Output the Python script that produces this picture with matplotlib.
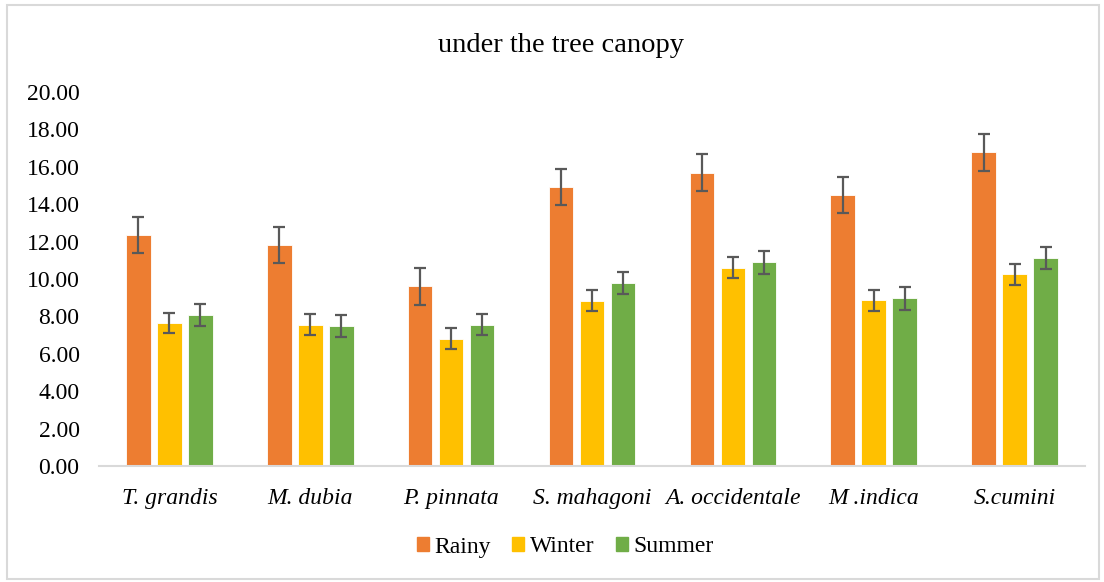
import matplotlib

matplotlib.use("Agg")
import matplotlib.pyplot as plt
import numpy as np
from matplotlib.patches import Rectangle

species = ["T. grandis", "M. dubia", "P. pinnata", "S. mahagoni",
           "A. occidentale", "M .indica", "S.cumini"]
seasons = ["Rainy", "Winter", "Summer"]
rainy = [12.35, 11.80, 9.60, 14.92, 15.69, 14.49, 16.78]
winter = [7.63, 7.56, 6.80, 8.84, 10.61, 8.86, 10.25]
summer = [8.08, 7.50, 7.56, 9.80, 10.89, 8.97, 11.12]
rainy_err = [0.96, 0.97, 0.98, 0.96, 0.98, 0.96, 0.98]
winter_err = [0.54, 0.55, 0.57, 0.57, 0.57, 0.55, 0.57]
summer_err = [0.60, 0.58, 0.57, 0.59, 0.60, 0.62, 0.61]
colors = ["#ED7D31", "#FFC000", "#70AD47"]

plt.rcParams["font.family"] = ["Liberation Serif", "DejaVu Serif"]

fig = plt.figure(figsize=(11.04, 5.82), dpi=100)
ax = fig.add_axes([99 / 1104, 116 / 582, 986 / 1104, 374 / 582])

x = np.arange(len(species))
width = 0.175
pitch = 0.22
for i, (vals, errs) in enumerate(zip([rainy, winter, summer],
                                     [rainy_err, winter_err, summer_err])):
    ax.bar(x + (i - 1) * pitch, vals, width, color=colors[i], label=seasons[i],
           edgecolor="white", linewidth=0.6, zorder=2)
    ax.errorbar(x + (i - 1) * pitch, vals, yerr=errs, fmt="none",
                ecolor="#595959", elinewidth=1.6, capsize=4.5, capthick=1.6,
                zorder=3)

ax.set_xlim(-0.5, len(species) - 0.5)
ax.set_ylim(0, 20)
ax.set_yticks(np.arange(0, 20.01, 2))
ax.set_yticklabels([f"{v:.2f}" for v in np.arange(0, 20.01, 2)], fontsize=17)
ax.set_xticks(x)
ax.set_xticklabels(species, fontsize=17, style="italic")
ax.tick_params(length=0)
ax.tick_params(axis="y", pad=14)
ax.tick_params(axis="x", pad=16)
for s in ["top", "right", "left"]:
    ax.spines[s].set_visible(False)
ax.spines["bottom"].set_color("#D9D9D9")
ax.spines["bottom"].set_linewidth(1.5)

fig.text(0.508, 1 - 46 / 582, "under the tree canopy", ha="center", va="center",
         fontsize=20.5)

handles = [Rectangle((0, 0), 1, 1, color=c) for c in colors]
fig.legend(handles, seasons, loc="center", bbox_to_anchor=(0.512, 1 - 547 / 582),
           ncol=3, frameon=False, fontsize=17, handlelength=0.5, handleheight=0.5,
           handletextpad=0.25, columnspacing=0.9)

fig.patches.append(Rectangle((7 / 1104, 3 / 582), 1092 / 1104, 574 / 582,
                             transform=fig.transFigure, fill=False,
                             edgecolor="#D9D9D9", linewidth=1.5))

fig.savefig("out.png", dpi=100)
